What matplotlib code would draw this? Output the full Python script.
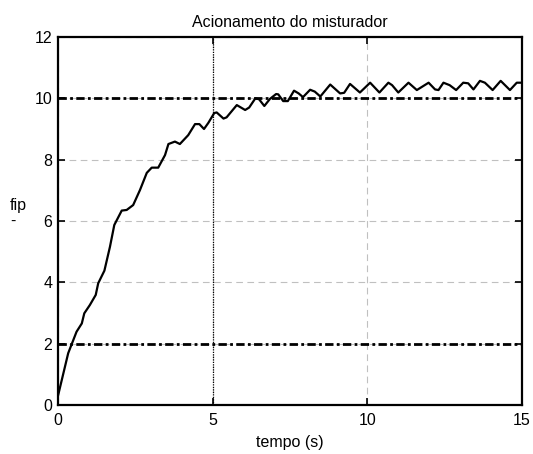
import matplotlib
matplotlib.use("Agg")
import matplotlib.pyplot as plt

plt.rcParams['font.family'] = ['Liberation Sans', 'DejaVu Sans']

# curve
tempo = [0.0, 0.33, 0.6, 0.77, 0.85, 1.03, 1.22, 1.30, 1.50, 1.68, 1.82, 2.06, 2.22,
         2.43, 2.65, 2.87, 3.03, 3.24, 3.46, 3.57, 3.78, 3.94, 4.21, 4.43, 4.57, 4.72,
         4.86, 5.05, 5.13, 5.35, 5.45, 5.78, 6.05, 6.18, 6.38, 6.5, 6.67, 6.85, 7.05,
         7.12, 7.28, 7.43, 7.63, 7.78, 7.92, 8.15, 8.3, 8.48, 8.8, 9.12, 9.25, 9.44,
         9.76, 10.09, 10.39, 10.68, 10.8, 11.0, 11.33, 11.6, 11.98, 12.19, 12.3, 12.46,
         12.66, 12.87, 13.1, 13.26, 13.43, 13.64, 13.8, 14.05, 14.31, 14.61, 14.83, 15.0]
fip = [0.3, 1.69, 2.39, 2.66, 2.99, 3.26, 3.59, 3.97, 4.38, 5.16, 5.87, 6.34, 6.36,
       6.52, 7.01, 7.57, 7.74, 7.74, 8.15, 8.51, 8.59, 8.51, 8.8, 9.16, 9.16, 9.0,
       9.2, 9.52, 9.54, 9.34, 9.38, 9.78, 9.62, 9.7, 10.0, 9.97, 9.75, 9.98, 10.14,
       10.13, 9.91, 9.91, 10.25, 10.16, 10.04, 10.28, 10.22, 10.06, 10.45, 10.16, 10.18, 10.47,
       10.19, 10.51, 10.19, 10.51, 10.43, 10.19, 10.51, 10.27, 10.51, 10.29, 10.27, 10.51,
       10.43, 10.27, 10.51, 10.49, 10.29, 10.57, 10.51, 10.27, 10.57, 10.27, 10.51, 10.51]

limites = [2, 10]
t_marca = 5
xticks = [0, 5, 10, 15]
yticks = [0, 2, 4, 6, 8, 10, 12]

fig = plt.figure(figsize=(5.33, 4.54), dpi=100)
ax = fig.add_axes([0.1088, 0.1079, 0.8706, 0.8106])

ax.grid(True, color='#c0c0c0', linestyle=(0, (6, 4)), linewidth=0.8)
ax.set_axisbelow(True)

for y in limites:
    ax.axhline(y, color='black', linewidth=2, linestyle=(0, (3, 1.2, 1, 1.2)))
ax.axvline(t_marca, color='black', linewidth=0.9, linestyle=(0, (1, 1)))

ax.plot(tempo, fip, color='black', linewidth=1.6)

ax.set_xlim(0, 15)
ax.set_ylim(0, 12)
ax.set_xticks(xticks)
ax.set_yticks(yticks)
ax.tick_params(direction='in', length=5, width=1.2, top=True, right=True,
               labelsize=11.5)
ax.tick_params(axis='x', pad=6)
ax.tick_params(axis='y', pad=4)
for s in ax.spines.values():
    s.set_linewidth(1.6)

ax.set_title('Acionamento do misturador', fontsize=11.5, pad=7)
ax.set_xlabel('tempo (s)', fontsize=11.5, labelpad=5)
ax.set_ylabel('fip\n-', fontsize=11.5, rotation=0, va='center', ha='left',
              multialignment='left', linespacing=1.1)
ax.yaxis.set_label_coords(-0.103, 0.52)

fig.savefig('out.png', dpi=100)
